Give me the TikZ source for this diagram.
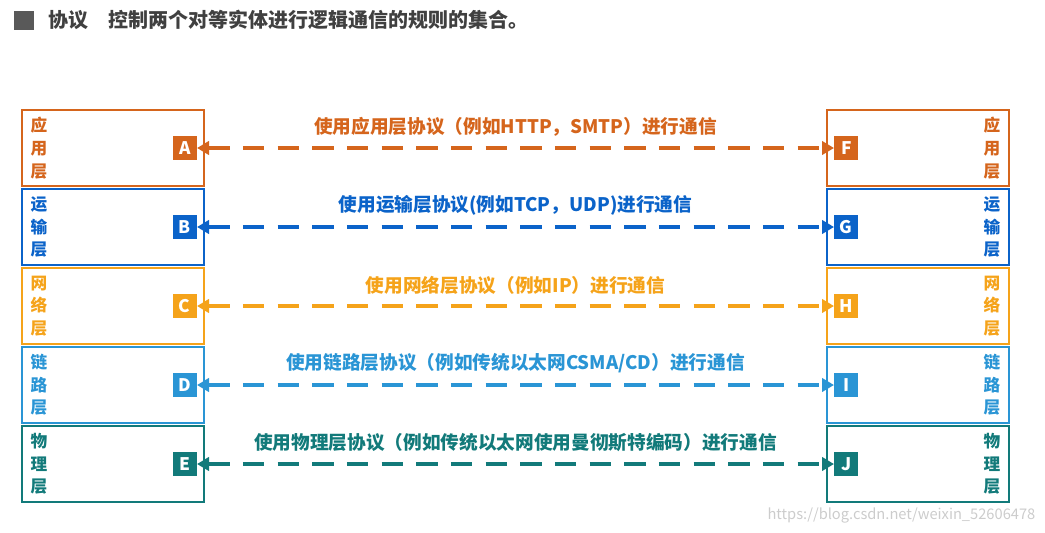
\documentclass[tikz,border=0pt]{standalone}
\usepackage{fontspec}
\setmainfont{Noto Sans CJK SC}
\usetikzlibrary{arrows.meta,positioning}
\definecolor{appc}{HTML}{D5651C}
\definecolor{trnc}{HTML}{0B63C9}
\definecolor{netc}{HTML}{F5A31A}
\definecolor{lnkc}{HTML}{2A95D5}
\definecolor{phyc}{HTML}{127A7A}
\begin{document}
\begin{tikzpicture}[x=0.75pt,y=-0.75pt,
  layer/.style={draw=#1,line width=1.5pt,minimum width=136.5pt,minimum height=57pt,inner sep=0pt},
  tag/.style={fill=#1,text=white,minimum size=18pt,inner sep=0pt,font=\bfseries\fontsize{13}{13}\selectfont},
  side/.style={text=#1,font=\bfseries\fontsize{12.5}{17}\selectfont,align=center,inner sep=0pt},
  talk/.style={draw=#1,line width=3.2pt,dash pattern=on 16pt off 10pt,{Triangle[length=9pt,width=10pt]}-{Triangle[length=9pt,width=10pt]}},
  say/.style={text=#1,font=\bfseries\fontsize{14}{14}\selectfont,above=4pt}]
\useasboundingbox (0,0) rectangle (1045,532);
% header
\fill[gray!70!black] (14,11) rectangle (34,30);
\node[anchor=west,font=\bfseries\fontsize{15}{15}\selectfont,text=black!75] (title) at (44,20) {协议\quad 控制两个对等实体进行逻辑通信的规则的集合。};
% layers
\foreach \i/\c/\l/\r/\p/\q/\s/\cap in {%
  0/appc/A/F/应/用/层/{使用应用层协议（例如HTTP，SMTP）进行通信},
  1/trnc/B/G/运/输/层/{使用运输层协议(例如TCP，UDP)进行通信},
  2/netc/C/H/网/络/层/{使用网络层协议（例如IP）进行通信},
  3/lnkc/D/I/链/路/层/{使用链路层协议（例如传统以太网CSMA/CD）进行通信},
  4/phyc/E/J/物/理/层/{使用物理层协议（例如传统以太网使用曼彻斯特编码）进行通信}} {
  \node[layer=\c] (L\l) at (113,{148+79*\i}) {};
  \node[layer=\c] (R\r) at (918,{148+79*\i}) {};
  \node[tag=\c,left=6pt of L\l.east] (t\l) {\l};
  \node[tag=\c,right=6pt of R\r.west] (t\r) {\r};
  \node[side=\c,right=7pt of L\l.west] {\p\\\q\\\s};
  \node[side=\c,left=7pt of R\r.east] {\p\\\q\\\s};
  \draw[talk=\c] (t\l.east) -- node[say=\c] {\cap} (t\r.west);
}
% watermark
\node[anchor=south east,text=gray!40,font=\fontsize{11}{11}\selectfont] (mark) at (1040,528) {https://blog.csdn.net/weixin\_52606478};
\end{tikzpicture}
\end{document}
